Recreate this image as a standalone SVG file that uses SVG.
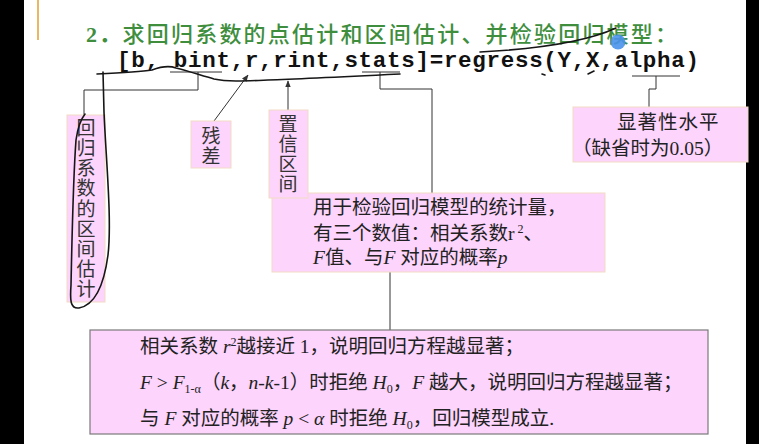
<svg xmlns="http://www.w3.org/2000/svg" width="759" height="444" viewBox="0 0 759 444">
  <style>
    .box { fill: #fcd4fc; stroke: #f4dcc4; stroke-width: 1; }
    .box2 { fill: #fcd4fc; stroke: #7a7a7a; stroke-width: 1.2; }
    .t { font-family: "Liberation Serif", "Noto Sans CJK SC", serif; font-size: 19.5px; fill: #222; }
    .v { font-family: "Noto Sans CJK SC", sans-serif; font-size: 19px; fill: #333; writing-mode: vertical-rl; letter-spacing: 1.2px; }
    .i { font-style: italic; }
    .sm { font-size: 12px; }
    .wire { fill: none; stroke: #333; stroke-width: 1; }
    .pen { fill: none; stroke: #161616; stroke-width: 1.6; stroke-linecap: round; stroke-linejoin: round; }
  </style>
  <defs>
    <marker id="arr" viewBox="0 0 10 10" refX="9" refY="5" markerWidth="7" markerHeight="7" orient="auto-start-reverse">
      <path d="M0,1 L10,5 L0,9 z" fill="#333"/>
    </marker>
  </defs>

  <rect width="759" height="444" fill="#ffffff"/>
  <!-- screen edges -->
  <rect x="0" y="0" width="24" height="444" fill="#000"/>
  <rect x="746" y="0" width="13" height="444" fill="#000"/>
  <line x1="38" y1="0" x2="38" y2="40" stroke="#e0a030" stroke-width="1.5"/>

  <!-- heading -->
  <text id="title" x="86" y="42" font-family="Liberation Serif, Noto Sans CJK SC, serif" font-size="22" font-weight="bold" fill="#3e8e3e" letter-spacing="1.8">2．<tspan font-family="Noto Sans CJK SC, sans-serif" font-weight="500" letter-spacing="2.2">求回归系数的点估计和区间估计、并检验回归模型：</tspan></text>

  <!-- call syntax -->
  <text id="code" x="117" y="67" font-family="Liberation Mono, monospace" font-weight="bold" font-size="22.5" fill="#111" textLength="582" lengthAdjust="spacing">[b, bint,r,rint,stats]=regress(Y,X,alpha)</text>

  <!-- connectors -->
  <g id="connectors">
    <line class="wire" x1="170" y1="72" x2="222" y2="72"/>
    <polyline class="wire" points="198,72 198,90 84,90 84,115"/>
    <line class="wire" x1="214" y1="121" x2="248" y2="75" marker-end="url(#arr)"/>
    <line class="wire" x1="288" y1="110" x2="288" y2="81" marker-end="url(#arr)"/>
    <line class="wire" x1="362" y1="72" x2="400" y2="72"/>
    <polyline class="wire" points="380,72 380,89 432,89 432,193"/>
    <line class="wire" x1="632" y1="76" x2="680" y2="76"/>
    <polyline class="wire" points="656,76 656,89 649,89 649,107"/>
    <line class="wire" x1="390" y1="272" x2="390" y2="330"/>
  </g>

  <!-- outputs -->
  <g id="node-bint">
    <rect class="box" x="67" y="115" width="38" height="187"/>
    <text class="v" x="86" y="118">回归系数的区间估计</text>
  </g>
  <g id="node-r">
    <rect class="box" x="191" y="121" width="40" height="47"/>
    <text class="v" x="211" y="126">残差</text>
  </g>
  <g id="node-stats">
    <rect class="box" x="272" y="193" width="333" height="79"/>
    <text class="t" x="313" y="214" font-size="19">用于检验回归模型的统计量，</text>
    <text class="t" x="313" y="240" font-size="19">有三个数值：相关系数r<tspan class="sm" dy="-7"> 2</tspan><tspan dy="7">、</tspan></text>
    <text class="t" x="313" y="264" font-size="19"><tspan class="i">F</tspan>值、与<tspan class="i">F</tspan> 对应的概率<tspan class="i">p</tspan></text>
  </g>
  <g id="node-rint">
    <rect class="box" x="269" y="110" width="39" height="88"/>
    <text class="v" x="288" y="114">置信区间</text>
  </g>
  <g id="node-alpha">
    <rect class="box" x="573" y="107" width="175" height="55"/>
    <text class="t" x="617" y="129" font-size="19" letter-spacing="1">显著性水平</text>
    <text class="t" x="572" y="155" font-size="19">（缺省时为0.05）</text>
  </g>

  <!-- decision rules -->
  <g id="node-rules">
    <rect class="box2" x="90" y="330" width="618" height="104"/>
    <text class="t" x="140" y="353">相关系数 <tspan class="i">r</tspan><tspan class="sm" dy="-7">2</tspan><tspan dy="7">越接近 1，说明回归方程越显著；</tspan></text>
    <text class="t" x="140" y="389"><tspan class="i">F</tspan> &gt; <tspan class="i">F</tspan><tspan class="sm" dy="4">1-α</tspan><tspan dy="-4">（</tspan><tspan class="i">k</tspan>，<tspan class="i">n</tspan>-<tspan class="i">k</tspan>-1）时拒绝 <tspan class="i">H</tspan><tspan class="sm" dy="4">0</tspan><tspan dy="-4">，</tspan><tspan class="i">F</tspan> 越大，说明回归方程越显著；</text>
    <text class="t" x="140" y="425">与 <tspan class="i">F</tspan> 对应的概率 <tspan class="i">p</tspan> &lt; <tspan class="i">α</tspan> 时拒绝 <tspan class="i">H</tspan><tspan class="sm" dy="4">0</tspan><tspan dy="-4">，回归模型成立.</tspan></text>
  </g>

  <!-- pen annotations -->
  <g id="ink">
    <path class="pen" d="M97,74 C120,73 140,72 152,70 C160,67 168,65 176,68 C188,71 200,75 214,79 C228,82 245,81 268,80 C300,79 340,77 400,74"/>
    <path class="pen" d="M103,72 L104,112 C106,160 112,220 108,255 C104,285 95,305 79,308 C70,309 70,300 71,285 C72,240 73,180 76,140 C78,126 81,119 85,114"/>
    <path class="pen" d="M480,52 Q575,47 616,28"/>
    <path class="pen" stroke-width="1.2" d="M542,74 L545,75"/>
    <path class="pen" stroke-width="1.2" d="M588,74 L594,71"/>
    <circle cx="618" cy="42" r="7.5" fill="#4a92ec" opacity="0.9"/>
  </g>
</svg>
